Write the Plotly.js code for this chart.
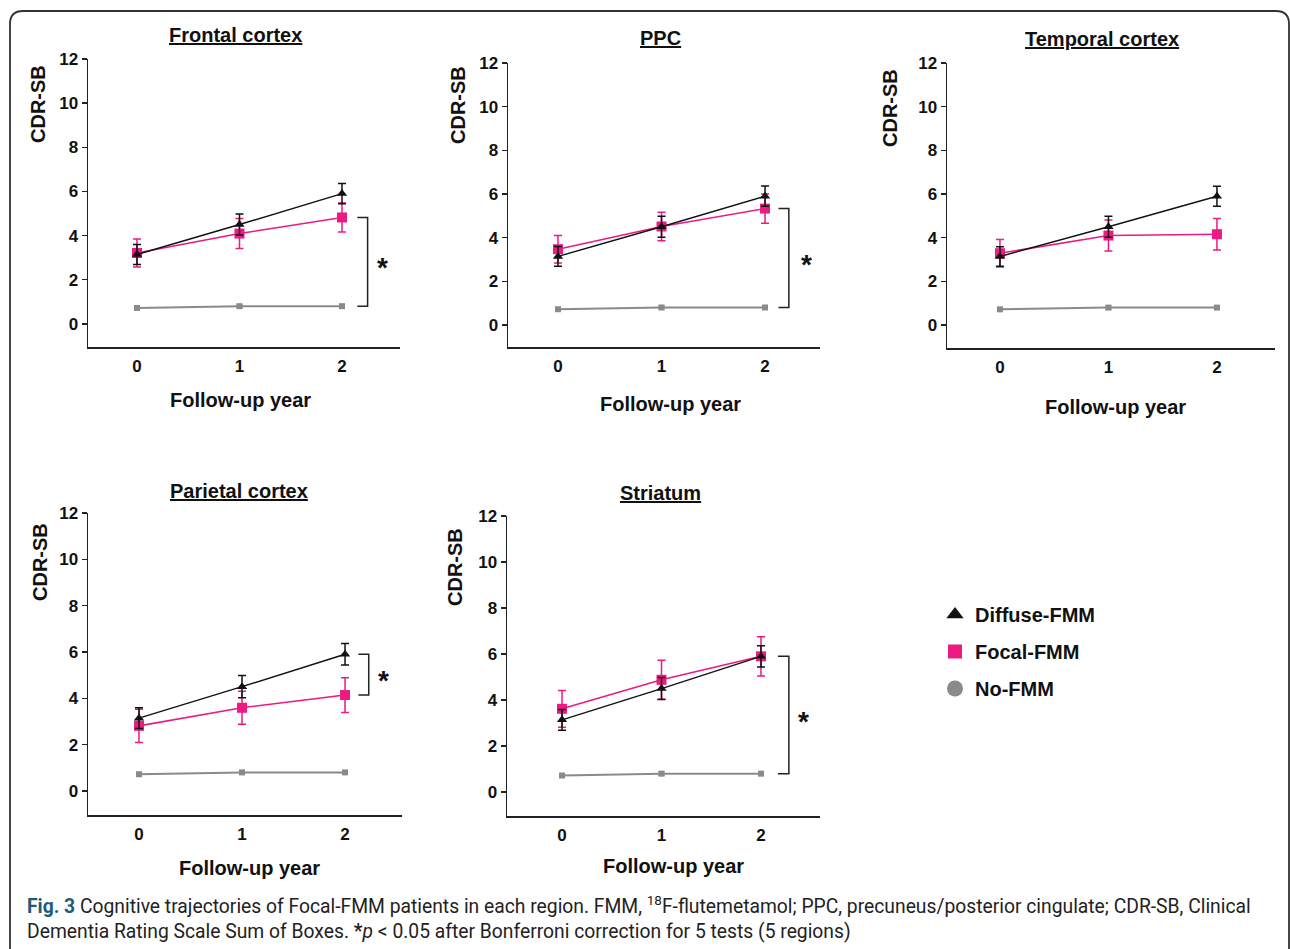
<!DOCTYPE html>
<html>
<head>
<meta charset="utf-8">
<script src="https://cdn.plot.ly/plotly-3.0.1.min.js"></script>
<style>html,body{margin:0;padding:0;background:#fff;}#chart{width:1290px;height:949px;}</style>
</head>
<body>
<div id="chart"></div>
<script>
// ---------- data ----------
const years = [0, 1, 2];
const regionNames = ['Frontal cortex', 'PPC', 'Temporal cortex', 'Parietal cortex', 'Striatum'];
const seriesNames = ['Diffuse-FMM', 'Focal-FMM', 'No-FMM'];

const diffuseMean = [3.14, 4.50, 5.90];
const diffuseErr  = [0.45, 0.48, 0.46];
const noFmmMean   = [0.72, 0.80, 0.80];
const noFmmErr    = [0.07, 0.07, 0.07];

const focalFrontal     = [3.21, 4.09, 4.82];
const focalFrontalErr  = [0.63, 0.68, 0.66];
const focalPPC         = [3.47, 4.51, 5.33];
const focalPPCErr      = [0.63, 0.65, 0.67];
const focalTemporal    = [3.29, 4.10, 4.16];
const focalTemporalErr = [0.63, 0.71, 0.72];
const focalParietal    = [2.81, 3.59, 4.14];
const focalParietalErr = [0.72, 0.71, 0.75];
const focalStriatum    = [3.62, 4.88, 5.90];
const focalStriatumErr = [0.80, 0.85, 0.85];

const yTicks = [0, 2, 4, 6, 8, 10, 12];

// ---------- styling / layout helpers ----------
const W = 1290, H = 949;
const PX = p => p / W;
const PY = p => 1 - p / H;
const BLACK = '#111111', PINK = '#ec1a82', GREY = '#8a8a8a';
const FONT = 'Liberation Sans, Arial, sans-serif';

const focalSets = [
  [focalFrontal, focalFrontalErr],
  [focalPPC, focalPPCErr],
  [focalTemporal, focalTemporalErr],
  [focalParietal, focalParietalErr],
  [focalStriatum, focalStriatumErr]
];

// panel geometry in pixels
const panels = [
  {xd: [88, 400],  yd: [59, 347],  xr: [-0.478, 2.566], yr: [-1.05, 12], title: [235, 35], ytitle: [38, 104], xtitle: [240, 400]},
  {xd: [508, 820], yd: [63, 347],  xr: [-0.483, 2.531], yr: [-1.01, 12], title: [660, 38], ytitle: [458, 105], xtitle: [670, 404]},
  {xd: [947, 1275],yd: [63, 348],  xr: [-0.488, 2.535], yr: [-1.05, 12], title: [1102, 39], ytitle: [890, 108], xtitle: [1115, 407]},
  {xd: [88, 402],  yd: [513, 815], xr: [-0.495, 2.553], yr: [-1.04, 12], title: [239, 491], ytitle: [40, 562], xtitle: [249, 868]},
  {xd: [507, 820], yd: [516, 816], xr: [-0.553, 2.593], yr: [-1.04, 12], title: [660, 493], ytitle: [455, 567], xtitle: [673, 866]}
];

// significance brackets
const brackets = [
  {p: 0, top: () => focalFrontal[2],  bot: () => noFmmMean[2], x0: 2.15, x1: 2.25, sx: 2.40},
  {p: 1, top: () => focalPPC[2],      bot: () => noFmmMean[2], x0: 2.13, x1: 2.23, sx: 2.40},
  {p: 3, top: () => diffuseMean[2],   bot: () => focalParietal[2], x0: 2.13, x1: 2.23, sx: 2.37},
  {p: 4, top: () => focalStriatum[2], bot: () => noFmmMean[2], x0: 2.17, x1: 2.28, sx: 2.43}
];

const data = [];
const layout = {
  width: W, height: H,
  margin: {l: 0, r: 0, t: 0, b: 0},
  paper_bgcolor: '#ffffff', plot_bgcolor: '#ffffff',
  font: {family: FONT, color: '#111', size: 16},
  showlegend: true,
  legend: {
    x: PX(935), y: PY(595), xanchor: 'left', yanchor: 'top',
    font: {family: FONT, size: 20, weight: 'bold', color: '#111'},
    tracegroupgap: 8, itemwidth: 30, bgcolor: 'rgba(0,0,0,0)'
  },
  annotations: [],
  shapes: []
};

panels.forEach((pn, i) => {
  const n = i === 0 ? '' : String(i + 1);
  const xa = 'x' + n, ya = 'y' + n;
  layout['xaxis' + n] = {
    domain: [PX(pn.xd[0]), PX(pn.xd[1])], range: pn.xr, anchor: ya,
    showline: true, linecolor: '#222', linewidth: 1.5, mirror: false,
    showgrid: false, zeroline: false, ticks: '',
    tickvals: years, ticktext: years.map(String),
    tickfont: {family: FONT, size: 17, weight: 'bold', color: '#111'},
    ticklabelstandoff: 3, fixedrange: true
  };
  layout['yaxis' + n] = {
    domain: [PY(pn.yd[1]), PY(pn.yd[0])], range: pn.yr, anchor: xa,
    showline: true, linecolor: '#222', linewidth: 1.5,
    showgrid: false, zeroline: false, ticks: 'outside', ticklen: 5, tickwidth: 1.5, tickcolor: '#222',
    tickvals: yTicks, ticktext: yTicks.map(String),
    tickfont: {family: FONT, size: 17, weight: 'bold', color: '#111'},
    fixedrange: true
  };

  const [fm, fe] = focalSets[i];
  data.push({
    x: years, y: noFmmMean, xaxis: xa, yaxis: ya, type: 'scatter', mode: 'lines+markers',
    showlegend: false, line: {color: GREY, width: 2},
    marker: {symbol: 'square', size: 6, color: GREY},
    error_y: {type: 'data', array: noFmmErr, visible: true, color: GREY, thickness: 1.5, width: 3}
  });
  data.push({
    x: years, y: fm, xaxis: xa, yaxis: ya, type: 'scatter', mode: 'lines+markers',
    showlegend: false, line: {color: PINK, width: 1.6},
    marker: {symbol: 'square', size: 10, color: PINK},
    error_y: {type: 'data', array: fe, visible: true, color: PINK, thickness: 1.5, width: 4}
  });
  data.push({
    x: years, y: diffuseMean, xaxis: xa, yaxis: ya, type: 'scatter', mode: 'lines+markers',
    showlegend: false, line: {color: BLACK, width: 1.4},
    marker: {symbol: 'triangle-up', size: 9, color: BLACK},
    error_y: {type: 'data', array: diffuseErr, visible: true, color: BLACK, thickness: 1.5, width: 4}
  });

  layout.annotations.push({
    text: '<b><u>' + regionNames[i] + '</u></b>', xref: 'paper', yref: 'paper',
    x: PX(pn.title[0]), y: PY(pn.title[1]), xanchor: 'center', yanchor: 'middle',
    showarrow: false, font: {family: FONT, size: 20, color: '#111'}
  });
  layout.annotations.push({
    text: '<b>CDR-SB</b>', xref: 'paper', yref: 'paper', textangle: -90,
    x: PX(pn.ytitle[0]), y: PY(pn.ytitle[1]), xanchor: 'center', yanchor: 'middle',
    showarrow: false, font: {family: FONT, size: 20, color: '#111'}
  });
  layout.annotations.push({
    text: '<b>Follow-up year</b>', xref: 'paper', yref: 'paper',
    x: PX(pn.xtitle[0]), y: PY(pn.xtitle[1]), xanchor: 'center', yanchor: 'middle',
    showarrow: false, font: {family: FONT, size: 20, color: '#111'}
  });
});

// legend entries (markers only)
const legendStyles = [
  {name: seriesNames[0], symbol: 'triangle-up', color: BLACK, size: 15},
  {name: seriesNames[1], symbol: 'square', color: PINK, size: 14},
  {name: seriesNames[2], symbol: 'circle', color: GREY, size: 16}
];
legendStyles.forEach((s, k) => {
  data.push({
    x: [null], y: [null], xaxis: 'x5', yaxis: 'y5', type: 'scatter', mode: 'markers',
    name: s.name, legendgroup: 'g' + k, showlegend: true,
    marker: {symbol: s.symbol, color: s.color, size: s.size}
  });
});

// brackets + stars
brackets.forEach(b => {
  const n = b.p === 0 ? '' : String(b.p + 1);
  const xa = 'x' + n, ya = 'y' + n;
  const t = b.top(), bo = b.bot();
  layout.shapes.push({
    type: 'path', xref: xa, yref: ya,
    path: `M ${b.x0},${t} L ${b.x1},${t} L ${b.x1},${bo} L ${b.x0},${bo}`,
    line: {color: '#222', width: 1.5}
  });
  layout.annotations.push({
    text: '<b>*</b>', xref: xa, yref: ya, x: b.sx, y: (t + bo) / 2,
    xanchor: 'center', yanchor: 'middle', yshift: -6, showarrow: false,
    font: {family: FONT, size: 28, color: '#111'}
  });
});

// caption
layout.annotations.push({
  text: '<b><span style="color:#1d5c78">Fig. 3</span></b> Cognitive trajectories of Focal-FMM patients in each region. FMM, <sup>18</sup>F-flutemetamol; PPC, precuneus/posterior cingulate; CDR-SB, Clinical',
  xref: 'paper', yref: 'paper', x: PX(25), y: PY(905), xanchor: 'left', yanchor: 'middle',
  showarrow: false, font: {family: 'Roboto, sans-serif', size: 19.3, color: '#222'}
});
layout.annotations.push({
  text: 'Dementia Rating Scale Sum of Boxes. <b>*</b><i>p</i> &lt; 0.05 after Bonferroni correction for 5 tests (5 regions)',
  xref: 'paper', yref: 'paper', x: PX(25), y: PY(931), xanchor: 'left', yanchor: 'middle',
  showarrow: false, font: {family: 'Roboto, sans-serif', size: 19.3, color: '#222'}
});

// rounded frame
layout.shapes.push({
  type: 'path', xref: 'paper', yref: 'paper',
  path: `M ${PX(10)},${PY(965)} L ${PX(10)},${PY(24)} Q ${PX(10)},${PY(11)} ${PX(23)},${PY(11)} L ${PX(1276)},${PY(11)} Q ${PX(1289)},${PY(11)} ${PX(1289)},${PY(24)} L ${PX(1289)},${PY(965)}`,
  line: {color: '#333', width: 1.8}
});

Plotly.newPlot('chart', data, layout, {displayModeBar: false, staticPlot: true});
</script>
</body>
</html>
